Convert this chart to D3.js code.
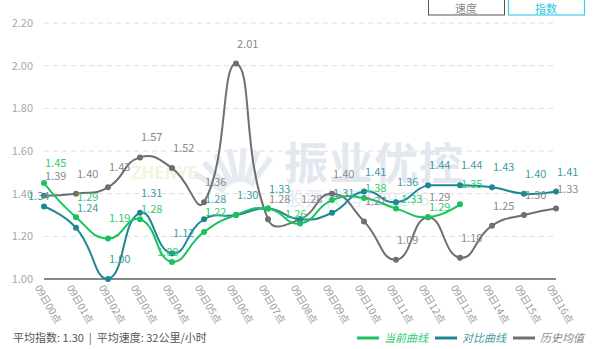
<!DOCTYPE html>
<html>
<head>
<meta charset="utf-8">
<script src="https://cdn.jsdelivr.net/npm/d3@7"></script>
<style>
  html, body { margin: 0; padding: 0; background: #fff; }
  svg { display: block; font-family: "Noto Sans CJK SC", "Noto Sans", sans-serif; }
</style>
</head>
<body>
<svg id="chart" width="600" height="349"></svg>
<script>
// Hourly congestion index, 09日00点 – 09日16点
const hours = ["09日00点","09日01点","09日02点","09日03点","09日04点","09日05点","09日06点","09日07点","09日08点",
               "09日09点","09日10点","09日11点","09日12点","09日13点","09日14点","09日15点","09日16点"];
const currentCurve = [1.45, 1.29, 1.19, 1.28, 1.08, 1.22, 1.30, 1.33, 1.26, 1.37, 1.38, 1.33, 1.29, 1.35];
const compareCurve = [1.34, 1.24, 1.00, 1.31, 1.12, 1.28, 1.30, 1.33, 1.28, 1.31, 1.41, 1.36, 1.44, 1.44, 1.43, 1.40, 1.41];
const historyAvg   = [1.39, 1.40, 1.43, 1.57, 1.52, 1.36, 2.01, 1.28, 1.28, 1.40, 1.27, 1.09, 1.29, 1.10, 1.25, 1.30, 1.33];
const yTicks = [1.00, 1.20, 1.40, 1.60, 1.80, 2.00, 2.20];
const avgIndex = 1.30;
const avgSpeed = 32;

const svg = d3.select("#chart");
const x = d3.scalePoint().domain(hours).range([44, 556]);
const y = d3.scaleLinear().domain([1.00, 2.20]).range([279, 23]);

const series = [
  { key: "cur",  name: "当前曲线", values: currentCurve, color: "#17c25f", labelColor: "#2fcb70" },
  { key: "cmp",  name: "对比曲线", values: compareCurve, color: "#1d8893", labelColor: "#3f9ba5" },
  { key: "hist", name: "历史均值", values: historyAvg,   color: "#6f6f6f", labelColor: "#8a8a8a" }
];

// Label placement tweaks where value labels would collide
const labelShift = {
  "cmp-0": [-17, 10], "cur-3": [0, 10], "cur-4": [-16, 10], "cur-8": [-16, 10],
  "cur-10": [0, 10], "cur-11": [4, 10], "cur-12": [0, 10]
};
const labelHidden = new Set(["cur-6", "cur-7", "cur-9", "cmp-8"]);

// Buttons (top right)
const btn = svg.append("g");
btn.append("rect").attr("x", 428.5).attr("y", -12).attr("width", 76).attr("height", 27)
  .attr("fill", "#fff").attr("stroke", "#555").attr("stroke-width", 1);
btn.append("text").attr("x", 466).attr("y", 12.5).attr("text-anchor", "middle")
  .attr("font-size", 11).attr("fill", "#8a8a8a").text("速度");
btn.append("rect").attr("x", 508.5).attr("y", -12).attr("width", 76).attr("height", 27)
  .attr("fill", "#fff").attr("stroke", "#3ccfe6").attr("stroke-width", 1.2);
btn.append("text").attr("x", 546).attr("y", 12.5).attr("text-anchor", "middle")
  .attr("font-size", 11).attr("fill", "#33c6e0").text("指数");

// Grid + y axis labels
const grid = svg.append("g");
yTicks.forEach(t => {
  if (t > 1.0) {
    grid.append("line").attr("x1", 44).attr("x2", 556).attr("y1", y(t)).attr("y2", y(t))
      .attr("stroke", "#dcdcdc").attr("stroke-width", 1).attr("stroke-dasharray", "5,4");
  }
  grid.append("text").attr("x", 33).attr("y", y(t)).attr("dy", "0.35em").attr("text-anchor", "end")
    .attr("font-size", 11).attr("fill", "#a8a8a8").text(t.toFixed(2));
});

// Watermark
const wm = svg.append("g").attr("pointer-events", "none");
wm.append("text").attr("x", 284).attr("y", 180).attr("font-size", 44).attr("font-weight", 700)
  .attr("fill", "#e3e8f0").attr("letter-spacing", 1).text("振业优控");
wm.append("text").attr("x", 286).attr("y", 206).attr("font-size", 19)
  .attr("fill", "#e6eaf1").text("股票代码 839276");
wm.append("text").attr("x", 131).attr("y", 179).attr("font-size", 17).attr("font-weight", 700)
  .attr("fill", "#eef6dc").text("ZHENYE");
const rays = d3.range(0, 7);
rays.forEach(i => {
  const a = (-150 + i * 16) * Math.PI / 180;
  wm.append("line")
    .attr("x1", 240 + Math.cos(a) * 18).attr("y1", 200 + Math.sin(a) * 18)
    .attr("x2", 240 + Math.cos(a) * 52).attr("y2", 200 + Math.sin(a) * 52)
    .attr("stroke", "#e6ebf3").attr("stroke-width", 6);
});

// x axis
svg.append("line").attr("x1", 44).attr("x2", 556).attr("y1", y(1.0)).attr("y2", y(1.0))
  .attr("stroke", "#616161").attr("stroke-width", 1.5);
const xAxis = d3.axisBottom(x).tickSize(0).tickPadding(0);
const gx = svg.append("g").attr("transform", `translate(0,${y(1.0)})`).call(xAxis);
gx.select(".domain").remove();
gx.selectAll("text")
  .attr("font-size", 10).attr("fill", "#9a9a9a")
  .attr("font-family", "\"Noto Sans CJK SC\", sans-serif")
  .attr("text-anchor", "start").attr("dy", "0.35em").attr("y", 0)
  .attr("transform", "translate(-7,7) rotate(60)");

// ECharts-style smoothing curve (smooth = 0.5, bounded by data extent)
function smoothCurve(context) {
  let pts;
  return {
    areaStart() {}, areaEnd() {},
    lineStart() { pts = []; },
    point(px, py) { pts.push([+px, +py]); },
    lineEnd() {
      const s = 0.5, n = pts.length;
      if (!n) return;
      const minX = d3.min(pts, p => p[0]), maxX = d3.max(pts, p => p[0]);
      const minY = d3.min(pts, p => p[1]), maxY = d3.max(pts, p => p[1]);
      const clamp = p => [Math.max(minX, Math.min(maxX, p[0])), Math.max(minY, Math.min(maxY, p[1]))];
      context.moveTo(pts[0][0], pts[0][1]);
      let cp0 = pts[0].slice();
      for (let i = 1; i < n; i++) {
        const p = pts[i], prev = pts[i - 1], next = pts[i + 1];
        let inCp, ratio = 0.5, v = [0, 0];
        if (!next) {
          inCp = p.slice();
        } else {
          v = [next[0] - prev[0], next[1] - prev[1]];
          const d0 = Math.hypot(p[0] - prev[0], p[1] - prev[1]);
          const d1 = Math.hypot(next[0] - p[0], next[1] - p[1]);
          ratio = d1 / (d0 + d1);
          inCp = [p[0] - v[0] * s * (1 - ratio), p[1] - v[1] * s * (1 - ratio)];
        }
        const c0 = clamp(cp0), c1 = clamp(inCp);
        context.bezierCurveTo(c0[0], c0[1], c1[0], c1[1], p[0], p[1]);
        cp0 = [p[0] + v[0] * s * ratio, p[1] + v[1] * s * ratio];
      }
    }
  };
}

const line = d3.line()
  .x((d, i) => x(hours[i]))
  .y(d => y(d))
  .curve(smoothCurve);

const drawOrder = [series[2], series[1], series[0]];
drawOrder.forEach(s => {
  const g = svg.append("g");
  g.append("path").datum(s.values).attr("d", line)
    .attr("fill", "none").attr("stroke", s.color).attr("stroke-width", 2);
  g.selectAll("circle").data(s.values).join("circle")
    .attr("cx", (d, i) => x(hours[i])).attr("cy", d => y(d)).attr("r", 3)
    .attr("fill", s.color);
});

// Value labels
drawOrder.forEach(s => {
  const g = svg.append("g");
  s.values.forEach((d, i) => {
    const id = `${s.key}-${i}`;
    if (labelHidden.has(id)) return;
    const sh = labelShift[id] || [0, 0];
    g.append("text")
      .attr("x", x(hours[i]) + 1 + sh[0])
      .attr("y", y(d) - 16 + sh[1])
      .attr("font-size", 11).attr("fill", s.labelColor)
      .text(d.toFixed(2));
  });
});

// Footer summary
svg.append("text").attr("x", 13).attr("y", 342).attr("font-size", 11).attr("fill", "#555")
  .text(`平均指数: ${avgIndex.toFixed(2)}\u00a0\u00a0|\u00a0\u00a0平均速度: ${avgSpeed}公里/小时`);

// Legend
const legendX = [357, 435, 513];
series.forEach((s, i) => {
  const lg = svg.append("g").attr("transform", `translate(${legendX[i]},338)`);
  lg.append("line").attr("x1", 0).attr("x2", 22).attr("y1", 0).attr("y2", 0)
    .attr("stroke", s.color).attr("stroke-width", 3);
  lg.append("text").attr("x", 27).attr("y", 0).attr("dy", "0.35em")
    .attr("font-size", 11).attr("font-style", "italic").attr("fill", s.labelColor).text(s.name);
});
</script>
</body>
</html>
